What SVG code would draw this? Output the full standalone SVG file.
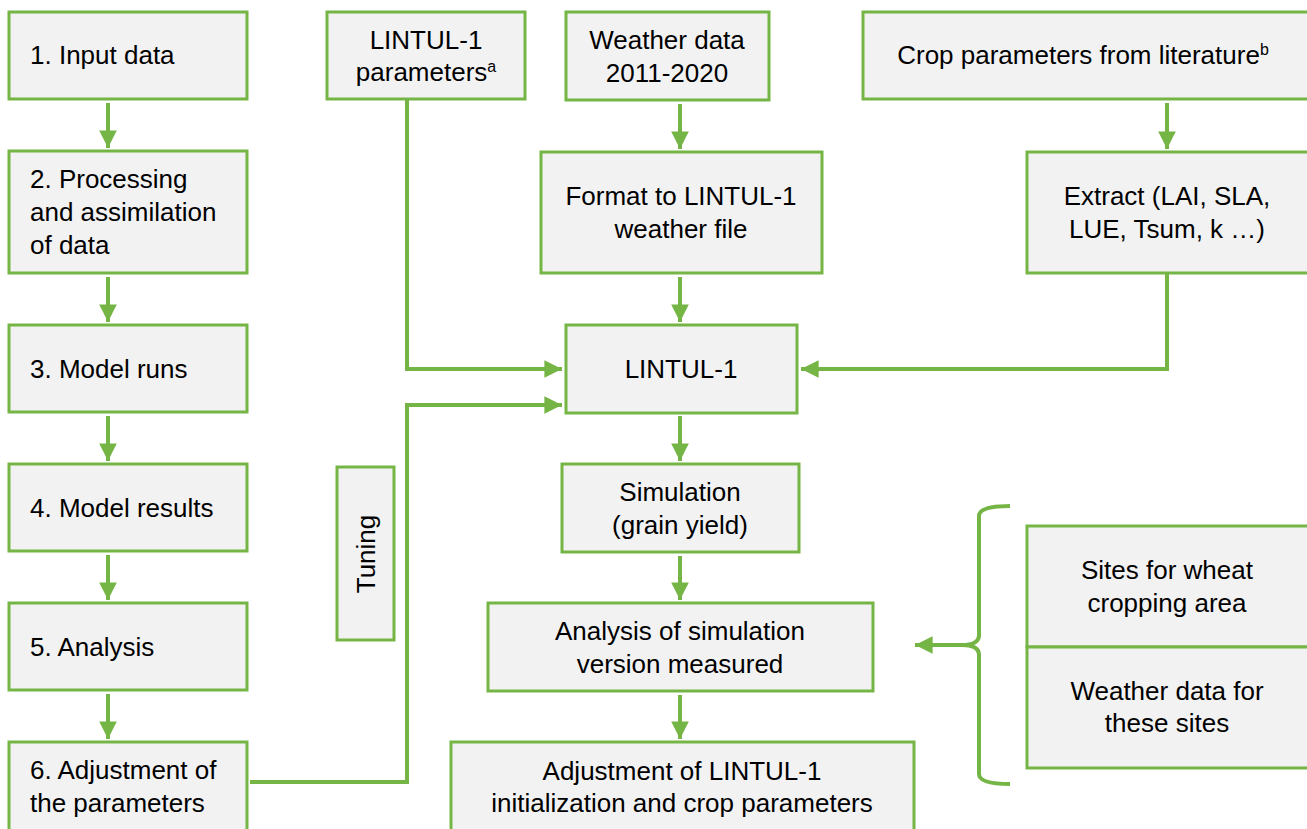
<svg xmlns="http://www.w3.org/2000/svg" width="1307" height="829" viewBox="0 0 1307 829">
<defs>
<style>
.box{fill:#f2f2f2;stroke:#75b545;stroke-width:3}
.t{font-family:"Liberation Sans",Arial,sans-serif;font-size:26px;fill:#000}
.c{text-anchor:middle}
.ln{fill:none;stroke:#75b545;stroke-width:4}
.sup{font-size:16px}
</style>
<marker id="ah" viewBox="0 0 10 10" refX="10" refY="5" markerWidth="4.4" markerHeight="4.6" orient="auto" markerUnits="strokeWidth">
<path d="M0,0 L10,5 L0,10 Z" fill="#75b545"/>
</marker>
</defs>
<rect width="1307" height="829" fill="#fff"/>

<g id="n1"><rect class="box" x="9" y="12" width="238" height="87"/><text class="t" x="30" y="64">1. Input data</text></g>
<g id="n2"><rect class="box" x="9" y="151" width="238" height="122"/><text class="t" x="30" y="188">2. Processing</text><text class="t" x="30" y="221">and assimilation</text><text class="t" x="30" y="254">of data</text></g>
<g id="n3"><rect class="box" x="9" y="325" width="238" height="87"/><text class="t" x="30" y="378">3. Model runs</text></g>
<g id="n4"><rect class="box" x="9" y="464" width="238" height="87"/><text class="t" x="30" y="517">4. Model results</text></g>
<g id="n5"><rect class="box" x="9" y="603" width="238" height="87"/><text class="t" x="30" y="656">5. Analysis</text></g>
<g id="n6"><rect class="box" x="9" y="742" width="238" height="100"/><text class="t" x="30" y="779">6. Adjustment of</text><text class="t" x="30" y="812">the parameters</text></g>

<g id="params"><rect class="box" x="327" y="12" width="198" height="87"/><text class="t c" x="426" y="49">LINTUL-1</text><text class="t c" x="426" y="81">parameters<tspan class="sup" dy="-9">a</tspan></text></g>
<g id="tuning"><rect class="box" x="337" y="467" width="57" height="173"/><text class="t c" transform="translate(375,554) rotate(-90)" x="0" y="0">Tuning</text></g>

<g id="weather"><rect class="box" x="566" y="12" width="203" height="88"/><text class="t c" x="667" y="49">Weather data</text><text class="t c" x="667" y="82">2011-2020</text></g>
<g id="format"><rect class="box" x="541" y="152" width="281" height="121"/><text class="t c" x="681" y="205">Format to LINTUL-1</text><text class="t c" x="681" y="238">weather file</text></g>
<g id="lintul"><rect class="box" x="566" y="325" width="231" height="88"/><text class="t c" x="681" y="378">LINTUL-1</text></g>
<g id="sim"><rect class="box" x="562" y="464" width="237" height="88"/><text class="t c" x="680" y="501">Simulation</text><text class="t c" x="680" y="534">(grain yield)</text></g>
<g id="analysis"><rect class="box" x="488" y="603" width="385" height="88"/><text class="t c" x="680" y="640">Analysis of simulation</text><text class="t c" x="680" y="673">version measured</text></g>
<g id="adjust"><rect class="box" x="451" y="742" width="463" height="100"/><text class="t c" x="682" y="780">Adjustment of LINTUL-1</text><text class="t c" x="682" y="812">initialization and crop parameters</text></g>

<g id="crop"><rect class="box" x="863" y="12" width="450" height="87"/><text class="t c" x="1083" y="64">Crop parameters from literature<tspan class="sup" dy="-9">b</tspan></text></g>
<g id="extract"><rect class="box" x="1027" y="152" width="286" height="121"/><text class="t c" x="1167" y="205">Extract (LAI, SLA,</text><text class="t c" x="1167" y="238">LUE, Tsum, k …)</text></g>
<g id="sites"><rect class="box" x="1027" y="526" width="286" height="121"/><text class="t c" x="1167" y="579">Sites for wheat</text><text class="t c" x="1167" y="612">cropping area</text></g>
<g id="wsites"><rect class="box" x="1027" y="647" width="286" height="121"/><text class="t c" x="1167" y="700">Weather data for</text><text class="t c" x="1167" y="732">these sites</text></g>

<g id="connectors">
<line class="ln" x1="108" y1="103" x2="108" y2="148" marker-end="url(#ah)"/>
<line class="ln" x1="108" y1="277" x2="108" y2="322" marker-end="url(#ah)"/>
<line class="ln" x1="108" y1="416" x2="108" y2="461" marker-end="url(#ah)"/>
<line class="ln" x1="108" y1="555" x2="108" y2="600" marker-end="url(#ah)"/>
<line class="ln" x1="108" y1="694" x2="108" y2="739" marker-end="url(#ah)"/>

<line class="ln" x1="680" y1="104" x2="680" y2="149" marker-end="url(#ah)"/>
<line class="ln" x1="680" y1="277" x2="680" y2="322" marker-end="url(#ah)"/>
<line class="ln" x1="680" y1="416" x2="680" y2="461" marker-end="url(#ah)"/>
<line class="ln" x1="680" y1="556" x2="680" y2="600" marker-end="url(#ah)"/>
<line class="ln" x1="680" y1="695" x2="680" y2="739" marker-end="url(#ah)"/>
<line class="ln" x1="1167" y1="103" x2="1167" y2="149" marker-end="url(#ah)"/>

<polyline class="ln" points="407,99 407,369 562,369" marker-end="url(#ah)"/>
<polyline class="ln" points="250,782 407,782 407,405 562,405" marker-end="url(#ah)"/>
<polyline class="ln" points="1167,273 1167,369 801,369" marker-end="url(#ah)"/>

<path class="ln" d="M1010,506 Q979,506 979,516 L979,635 Q979,645 962,645 Q979,645 979,655 L979,774 Q979,784 1010,784"/>
<line class="ln" x1="964" y1="645" x2="915" y2="645" stroke-width="5" marker-end="url(#ah)"/>
</g>
</svg>
